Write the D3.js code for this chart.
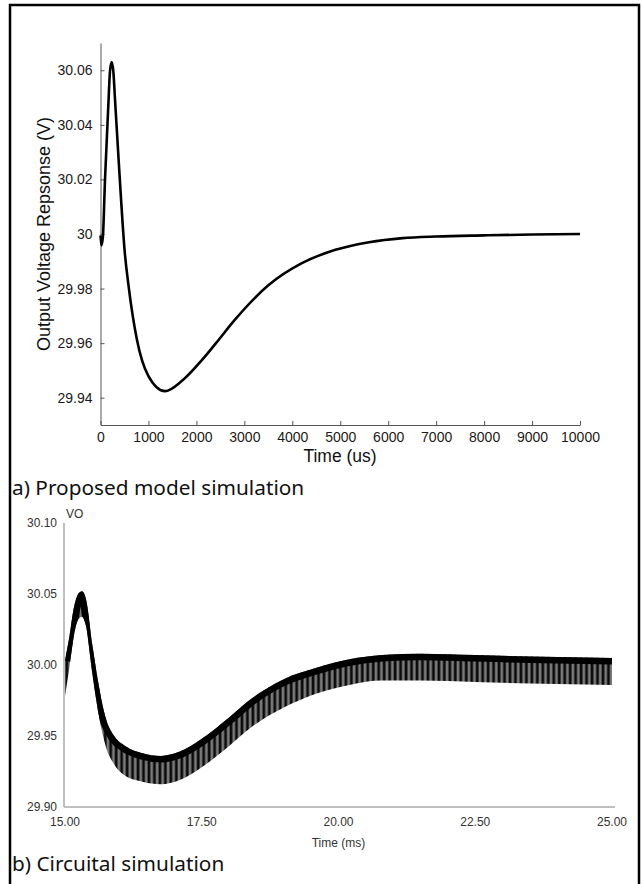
<!DOCTYPE html>
<html>
<head>
<meta charset="utf-8">
<script src="https://cdn.jsdelivr.net/npm/d3@7"></script>
<style>
  body { margin: 0; background: #fff; }
  svg { display: block; }
  text { font-family: "Liberation Sans", Arial, sans-serif; }
  .cap { font-family: "Noto Sans", Lato, sans-serif; }
</style>
</head>
<body>
<svg id="vis" width="642" height="884"></svg>
<script>
// a) proposed model: time (us) vs output voltage (V)
var modelTime = [0, 20, 50, 94, 163, 198, 233, 268, 302, 365, 428, 500, 594, 755, 997, 1345, 1700, 2100, 2400, 2800, 3500, 4200, 4900, 5600, 6300, 7000, 8000, 9000, 10000];
var modelVolt = [29.9995, 29.9958, 29.999, 30.020, 30.047, 30.0597, 30.063, 30.0595, 30.0495, 30.031, 30.0129, 29.9945, 29.9798, 29.9617, 29.948, 29.9424, 29.9462, 29.9535, 29.9598, 29.9685, 29.9812, 29.9893, 29.9942, 29.997, 29.9985, 29.9991, 29.9995, 29.9998, 30.0];
var modelYTicks = [29.94, 29.96, 29.98, 30, 30.02, 30.04, 30.06];
var modelXTicks = [0, 1000, 2000, 3000, 4000, 5000, 6000, 7000, 8000, 9000, 10000];

// b) circuit simulation: time (ms), ripple band upper / lower envelope (V)
var circTime  = [15.00, 15.08, 15.16, 15.24, 15.31, 15.38, 15.50, 15.62, 15.75, 15.90, 16.10, 16.40, 16.75, 17.10, 17.50, 18.00, 18.40, 19.00, 19.60, 20.20, 20.80, 21.50, 22.50, 23.50, 25.00];
var circUpper = [30.003, 30.020, 30.040, 30.050, 30.052, 30.047, 30.014, 29.985, 29.962, 29.950, 29.943, 29.938, 29.936, 29.939, 29.948, 29.963, 29.976, 29.990, 29.998, 30.004, 30.007, 30.008, 30.007, 30.006, 30.005];
var circLower = [29.978, 29.998, 30.020, 30.032, 30.034, 30.028, 29.994, 29.964, 29.942, 29.930, 29.922, 29.918, 29.916, 29.919, 29.928, 29.943, 29.956, 29.970, 29.980, 29.986, 29.989, 29.989, 29.988, 29.987, 29.986];
var circYTicks = [29.90, 29.95, 30.00, 30.05, 30.10];
var circXTicks = [15.00, 17.50, 20.00, 22.50, 25.00];
var ripplePeriod = 0.1; // ms, switching ripple

var svg = d3.select("#vis");

// outer frame
svg.append("path")
  .attr("d", "M10,900 V5 H639 V900")
  .attr("fill", "none")
  .attr("stroke", "#000")
  .attr("stroke-width", 2.5);

// ---------- chart a ----------
var x1 = d3.scaleLinear().domain([0, 10000]).range([100.5, 580]);
var y1 = d3.scaleLinear().domain([29.93, 30.07]).range([425, 43]);

var gA = svg.append("g");

var yAxisA = gA.append("g")
  .attr("transform", "translate(" + x1(0) + ",0)")
  .call(d3.axisLeft(y1).tickValues(modelYTicks).tickSizeInner(-4).tickSizeOuter(0).tickPadding(8)
    .tickFormat(function(d) { return String(+d.toFixed(2)); }));

var xAxisA = gA.append("g")
  .attr("transform", "translate(0," + y1(29.93) + ")")
  .call(d3.axisBottom(x1).tickValues(modelXTicks).tickSizeInner(-4).tickSizeOuter(0).tickPadding(7)
    .tickFormat(d3.format("d")));

[yAxisA, xAxisA].forEach(function(a) {
  a.selectAll("path, line").attr("stroke", "#555").attr("stroke-width", 1);
  a.selectAll("text").attr("fill", "#1a1a1a").style("font-size", "14px");
});

gA.append("path")
  .datum(modelTime.map(function(t, i) { return [t, modelVolt[i]]; }))
  .attr("fill", "none")
  .attr("stroke", "#000")
  .attr("stroke-width", 2.6)
  .attr("stroke-linejoin", "round")
  .attr("d", d3.line()
    .x(function(d) { return x1(d[0]); })
    .y(function(d) { return y1(d[1]); })
    .curve(d3.curveMonotoneX));

gA.append("text")
  .attr("transform", "translate(50,234) rotate(-90)")
  .attr("text-anchor", "middle")
  .style("font-size", "18px")
  .attr("fill", "#111")
  .text("Output Voltage Repsonse (V)");

gA.append("text")
  .attr("x", 340)
  .attr("y", 462)
  .attr("text-anchor", "middle")
  .style("font-size", "17.5px")
  .attr("fill", "#111")
  .text("Time (us)");

svg.append("text")
  .attr("class", "cap")
  .attr("x", 12)
  .attr("y", 495)
  .style("font-size", "20.8px")
  .attr("fill", "#111")
  .text("a) Proposed model simulation");

// ---------- chart b ----------
var x2 = d3.scaleLinear().domain([15, 25]).range([65, 612]);
var y2 = d3.scaleLinear().domain([29.90, 30.10]).range([807, 523]);

var gB = svg.append("g");

gB.append("line")
  .attr("x1", 64).attr("x2", 64)
  .attr("y1", y2(30.10)).attr("y2", y2(29.90))
  .attr("stroke", "#aaa").attr("stroke-width", 1.5);
gB.append("line")
  .attr("x1", 64).attr("x2", 615)
  .attr("y1", y2(29.90)).attr("y2", y2(29.90))
  .attr("stroke", "#aaa").attr("stroke-width", 1.5);

gB.selectAll(".ylab").data(circYTicks).enter().append("text")
  .attr("x", 57)
  .attr("y", function(d) { return y2(d); })
  .attr("dy", "0.35em")
  .attr("text-anchor", "end")
  .style("font-size", "12px")
  .attr("fill", "#333")
  .text(function(d) { return d.toFixed(2); });

gB.selectAll(".xlab").data(circXTicks).enter().append("text")
  .attr("x", function(d) { return x2(d); })
  .attr("y", 826)
  .attr("text-anchor", "middle")
  .style("font-size", "12px")
  .attr("fill", "#333")
  .text(function(d) { return d.toFixed(2); });

gB.append("text")
  .attr("x", 66).attr("y", 518)
  .style("font-size", "12px").attr("fill", "#333")
  .text("VO");

gB.append("text")
  .attr("x", x2(20)).attr("y", 847)
  .attr("text-anchor", "middle")
  .style("font-size", "12px").attr("fill", "#333")
  .text("Time (ms)");

// ripple texture: one spike per switching period
var pw = x2(15 + ripplePeriod) - x2(15);
var defs = svg.append("defs");
var pat = defs.append("pattern")
  .attr("id", "ripple")
  .attr("patternUnits", "userSpaceOnUse")
  .attr("x", x2(15)).attr("y", 0)
  .attr("width", pw).attr("height", 884);
pat.append("rect").attr("width", pw).attr("height", 884).attr("fill", "#7a7a7a");
pat.append("rect").attr("x", pw * 0.1).attr("width", pw * 0.5).attr("height", 884).attr("fill", "#0a0a0a");

var band = circTime.map(function(t, i) { return { t: t, u: circUpper[i], l: circLower[i] }; });

var area = d3.area()
  .x(function(d) { return x2(d.t); })
  .y0(function(d) { return y2(d.l); })
  .y1(function(d) { return y2(d.u); })
  .curve(d3.curveMonotoneX);

defs.append("clipPath").attr("id", "bandClip")
  .append("path").datum(band).attr("d", area);

gB.append("path")
  .datum(band)
  .attr("fill", "url(#ripple)")
  .attr("d", area);

gB.append("path")
  .datum(band)
  .attr("clip-path", "url(#bandClip)")
  .attr("fill", "none")
  .attr("stroke", "#000")
  .attr("stroke-width", 13)
  .attr("d", d3.line()
    .x(function(d) { return x2(d.t); })
    .y(function(d) { return y2(d.u); })
    .curve(d3.curveMonotoneX));

svg.append("text")
  .attr("class", "cap")
  .attr("x", 12)
  .attr("y", 871)
  .style("font-size", "20.8px")
  .attr("fill", "#111")
  .text("b) Circuital simulation");
</script>
</body>
</html>
